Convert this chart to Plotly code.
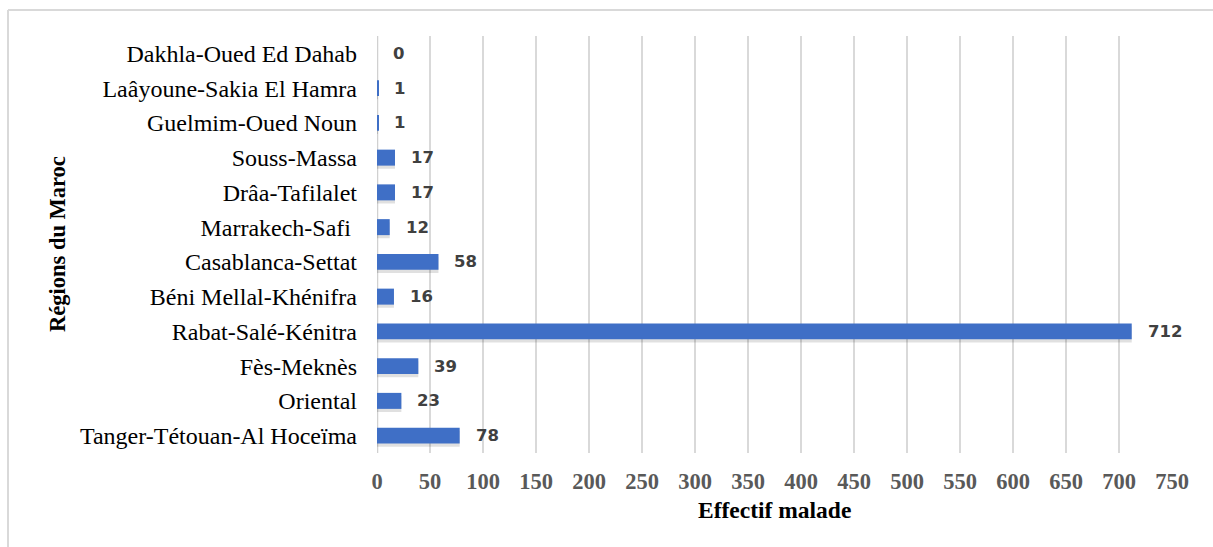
import plotly.graph_objects as go

# Régions du Maroc, listed bottom to top
regions = [
    "Tanger-Tétouan-Al Hoceïma",
    "Oriental",
    "Fès-Meknès",
    "Rabat-Salé-Kénitra",
    "Béni Mellal-Khénifra",
    "Casablanca-Settat",
    "Marrakech-Safi ",
    "Drâa-Tafilalet",
    "Souss-Massa",
    "Guelmim-Oued Noun",
    "Laâyoune-Sakia El Hamra",
    "Dakhla-Oued Ed Dahab",
]
effectif = [78, 23, 39, 712, 16, 58, 12, 17, 17, 1, 1, 0]
x_ticks = list(range(0, 751, 50))

W, H = 1213, 547
L, R, T, B = 377, 41, 36, 94
pw, ph = W - L - R, H - T - B

serif = "Liberation Serif, Times New Roman, serif"
bar_w = 0.46

fig = go.Figure()
# soft drop shadow under each bar
fig.add_trace(go.Bar(
    x=effectif, y=regions, orientation="h",
    width=bar_w, offset=-bar_w / 2 - 0.09,
    marker=dict(color="rgba(0,0,0,0.12)", line=dict(width=0)),
    hoverinfo="skip",
))
fig.add_trace(go.Bar(
    x=effectif,
    y=regions,
    orientation="h",
    width=bar_w, offset=-bar_w / 2,
    marker=dict(color="#3f6fc6", line=dict(width=0)),
    hoverinfo="x+y",
))

# value labels to the right of each bar
annotations = [
    dict(x=v, y=r, xref="x", yref="y", text=str(v), showarrow=False,
         xanchor="left", yanchor="middle", xshift=14,
         font=dict(family="DejaVu Sans", size=16.5, color="#404040", weight="bold"))
    for r, v in zip(regions, effectif)
]

# axis titles
annotations.append(dict(
    x=(774 - L) / pw, y=(453 - 510) / ph, xref="paper", yref="paper",
    text="<b>Effectif malade</b>", showarrow=False,
    xanchor="center", yanchor="middle",
    font=dict(family=serif, size=23.5, color="#000000"),
))
annotations.append(dict(
    x=(57 - L) / pw, y=(453 - 244) / ph, xref="paper", yref="paper",
    text="<b>Régions du Maroc</b>", showarrow=False, textangle=-90,
    xanchor="center", yanchor="middle",
    font=dict(family=serif, size=22.5, color="#000000"),
))

# light frame around the chart (left and top edges)
frame = dict(type="line", xref="paper", yref="paper",
             line=dict(color="#d9d9d9", width=2))
shapes = [
    dict(frame, x0=(8 - L) / pw, x1=(8 - L) / pw, y0=(453 - 10) / ph, y1=(453 - 560) / ph),
    dict(frame, x0=(8 - L) / pw, x1=(1220 - L) / pw, y0=(453 - 10) / ph, y1=(453 - 10) / ph),
]

fig.update_layout(
    width=W, height=H,
    margin=dict(l=L, r=R, t=T, b=B, autoexpand=False),
    paper_bgcolor="white",
    plot_bgcolor="white",
    showlegend=False,
    barmode="overlay",
    annotations=annotations,
    shapes=shapes,
    xaxis=dict(
        range=[0, 750],
        tickvals=x_ticks,
        ticktext=[str(t) for t in x_ticks],
        showgrid=True, gridcolor="#d9d9d9", gridwidth=1.5,
        zeroline=False, showline=False, ticks="",
        ticklabelstandoff=12,
        tickfont=dict(family=serif, size=22.5, color="#595959", weight="bold"),
        fixedrange=True,
    ),
    yaxis=dict(
        categoryorder="array", categoryarray=regions,
        showgrid=False, zeroline=False,
        showline=False, ticks="",
        ticklabelstandoff=19,
        tickfont=dict(family=serif, size=24, color="#000000"),
        fixedrange=True,
    ),
)

# vertical axis line at x = 0
fig.add_shape(type="line", xref="x", yref="paper", x0=0, x1=0, y0=0, y1=1,
              line=dict(color="#d0d0d0", width=2.5), layer="below")

fig.write_html("out.html")
